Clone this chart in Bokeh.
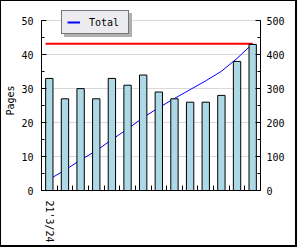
from bokeh.plotting import figure
from bokeh.models import (Range1d, LinearAxis, FixedTicker, SingleIntervalTicker,
                          Legend, LegendItem, ColumnDataSource)
from bokeh.embed import file_html
from bokeh.resources import INLINE

# ---- data ----
x_labels = ["21'3/24"]
pages = [33, 27, 30, 27, 33, 31, 34, 29, 27, 26, 26, 28, 38, 43]
totals = [33, 60, 90, 117, 150, 181, 215, 244, 271, 297, 323, 351, 389, 432]
total_pages = 432
left_axis_max = 50
right_axis_max = 500
left_ticks_interval = 10
right_ticks_interval = 100

FONT = "DejaVu Sans Mono"
n = len(pages)
xc = [i + 0.5 for i in range(n)]
bar_w = 0.47
head = 1.06  # extra headroom so the legend sits inside the frame

p = figure(width=297, height=247, output_backend="svg", toolbar_location=None,
           x_range=Range1d(0, n), y_range=Range1d(0, left_axis_max * head),
           min_border_left=40, min_border_right=38, min_border_top=9,
           min_border_bottom=58, background_fill_color="white",
           border_fill_color="white")
p.styles = {"border-style": "solid", "border-color": "black",
            "border-width": "1px 2px 2px 1px"}
p.extra_y_ranges = {"right": Range1d(0, right_axis_max * head)}
p.outline_line_color = None
p.xgrid.visible = False

# left axis
ya = p.yaxis[0]
ya.ticker = SingleIntervalTicker(interval=left_ticks_interval, num_minor_ticks=2)
ya.bounds = (0, left_axis_max)
ya.axis_label = "Pages"
p.ygrid.grid_line_color = "#d9d9d9"
p.ygrid.grid_line_width = 1

# right axis
ra = LinearAxis(y_range_name="right",
                ticker=SingleIntervalTicker(interval=right_ticks_interval, num_minor_ticks=2),
                bounds=(0, right_axis_max))
p.add_layout(ra, "right")

for ax in [ya, ra]:
    ax.major_tick_in = 5
    ax.major_tick_out = 0
    ax.minor_tick_in = 3
    ax.minor_tick_out = 0
    ax.major_label_text_font = FONT
    ax.major_label_text_font_size = "10px"
    ax.major_label_text_color = "black"
    ax.axis_line_color = "black"
    ax.major_tick_line_color = "black"
    ax.minor_tick_line_color = "black"
ya.major_label_standoff = 8
ra.major_label_standoff = 6
ya.axis_label_text_font = FONT
ya.axis_label_text_font_size = "10px"
ya.axis_label_text_font_style = "normal"
ya.axis_label_text_color = "black"
ya.axis_label_standoff = 2

# bottom axis
xa = p.xaxis[0]
xa.ticker = FixedTicker(ticks=[xc[0]], minor_ticks=list(range(1, n)))
xa.major_label_overrides = {xc[0]: x_labels[0]}
xa.major_label_orientation = "vertical"
xa.major_tick_in = 0
xa.major_tick_out = 0
xa.minor_tick_in = 5
xa.minor_tick_out = 0
xa.minor_tick_line_color = "black"
xa.axis_line_color = "black"
xa.major_label_text_font = FONT
xa.major_label_text_font_size = "10px"
xa.major_label_text_color = "black"
xa.major_label_standoff = 10

# red total line, cumulative line (behind bars), bars
p.line(x=[xc[0] - bar_w / 2, xc[-1]], y=[total_pages, total_pages],
       y_range_name="right", line_color="#ff0000", line_width=2)
src = ColumnDataSource(dict(x=xc, total=totals, pages=pages))
blue = p.line(x="x", y="total", source=src, y_range_name="right",
              line_color="#0000ff", line_width=1)
p.vbar(x="x", top="pages", width=bar_w, source=src,
       fill_color="#add8e6", line_color="black", line_width=1)

# legend proxies (single point -> nothing drawn in the plot)
leg_line = p.line(x=xc[:1], y=pages[:1], line_color="#0000ff", line_width=2)
shadow_line = p.line(x=xc[:1], y=pages[:1], line_color="#b0b0b0", line_width=2)

common = dict(padding=5, spacing=0, margin=0, glyph_width=13, glyph_height=12,
              label_height=12, label_width=34, label_standoff=9,
              label_text_font=FONT, label_text_font_size="10px",
              background_fill_alpha=1, border_line_width=1)
shadow = Legend(items=[LegendItem(label=" ", renderers=[shadow_line])],
                location=(23, 153), background_fill_color="#b0b0b0",
                border_line_color="#b0b0b0", label_text_color="#b0b0b0", **common)
legend = Legend(items=[LegendItem(label="Total", renderers=[leg_line])],
                location=(20, 156), background_fill_color="#ececf0",
                border_line_color="black", label_text_color="black", **common)
p.add_layout(shadow)
p.add_layout(legend)

open("out.html", "w").write(file_html(p, INLINE))
